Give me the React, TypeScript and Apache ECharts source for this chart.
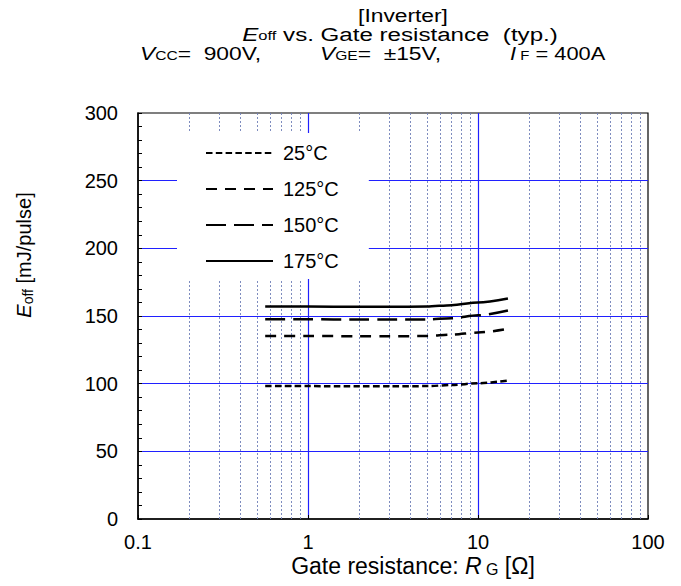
import React, { useEffect, useRef } from "react";
import * as echarts from "echarts";

// Gate resistance sample points [Ω]
const rgOhm = [0.56, 1, 2, 3, 5, 7, 10, 15];

// Turn-off energy [mJ/pulse] per junction temperature
const eoff25 = [98.2, 98.2, 98.0, 98.0, 98.2, 99.0, 100.3, 102.3];
const eoff125 = [135.3, 135.3, 135.0, 135.0, 135.2, 136.2, 137.8, 140.5];
const eoff150 = [147.6, 147.6, 147.4, 147.4, 147.5, 148.3, 150.5, 154.0];
const eoff175 = [157.0, 157.0, 156.8, 156.8, 157.0, 158.0, 160.0, 163.0];

const seriesNames = ["25°C", "125°C", "150°C", "175°C"];

// Intermediate decade lines of the log axis
const minorRg = [
  0.2, 0.3, 0.4, 0.5, 0.6, 0.7, 0.8, 0.9,
  2, 3, 4, 5, 6, 7, 8, 9,
  20, 30, 40, 50, 60, 70, 80, 90,
];

const FONT = "'Liberation Sans', Arial, sans-serif";

const richOf = (size: number, sub: number, lh: number) => ({
  n: { fontFamily: FONT, fontSize: size, color: "#000", lineHeight: lh },
  e: { fontFamily: FONT, fontSize: size, color: "#000", fontStyle: "italic", lineHeight: lh },
  s: { fontFamily: FONT, fontSize: sub, color: "#000", lineHeight: lh, verticalAlign: "bottom" },
});

export default function App() {
  const ref = useRef<HTMLDivElement>(null);

  useEffect(() => {
    if (!ref.current) return;
    const chart = echarts.init(ref.current, null, { renderer: "svg" });

    const pairs = (ys: number[]) => rgOhm.map((x, i) => [x, ys[i]]);
    const curve = (name: string, ys: number[], dash: any) => ({
      name,
      type: "line",
      data: pairs(ys),
      smooth: 0.3,
      smoothMonotone: "x",
      symbol: "none",
      lineStyle: { color: "#000", width: 2.5, type: dash },
      itemStyle: { color: "#000" },
      z: 5,
    });

    const text = (
      x: number,
      y: number,
      t: string,
      size: number,
      lh: number,
      align = "center",
      scaleX = 1,
      rotation = 0
    ) => ({
      type: "text",
      x,
      y,
      scaleX,
      rotation,
      style: {
        text: t,
        rich: richOf(size, Math.round(size * 0.7), lh),
        font: `${size}px ${FONT}`,
        fill: "#000",
        align,
        verticalAlign: "middle",
      },
    });

    chart.setOption({
      animation: false,
      backgroundColor: "#fff",
      textStyle: { fontFamily: FONT },
      grid: {
        left: 138,
        top: 113,
        width: 510,
        height: 406,
        show: true,
        borderColor: "#000",
        borderWidth: 1.2,
        backgroundColor: "transparent",
      },
      legend: {
        data: seriesNames,
        orient: "vertical",
        left: 177,
        top: 133,
        padding: [10, 30, 8, 28],
        itemWidth: 67,
        itemHeight: 20,
        itemGap: 16,
        backgroundColor: "#fff",
        selectedMode: false,
        itemStyle: { opacity: 0, borderWidth: 0 },
        textStyle: {
          fontFamily: FONT,
          fontSize: 20,
          lineHeight: 20,
          color: "#000",
          padding: [0, 0, 0, 5],
        },
        z: 10,
      },
      xAxis: {
        type: "log",
        logBase: 10,
        min: 0.1,
        max: 100,
        axisLine: { show: true, lineStyle: { color: "#000", width: 1.5 } },
        axisTick: { show: true, inside: true, length: 4, lineStyle: { color: "#000" } },
        axisLabel: {
          fontFamily: FONT,
          fontSize: 20,
          color: "#000",
          margin: 13,
          formatter: (v: number) => String(v),
        },
        splitLine: {
          show: true,
          showMinLine: false,
          showMaxLine: false,
          lineStyle: { color: "#2020ff", width: 1.2 },
        },
      },
      yAxis: {
        type: "value",
        min: 0,
        max: 300,
        interval: 50,
        axisLine: { show: true, lineStyle: { color: "#000", width: 1.5 } },
        axisTick: { show: true, inside: true, length: 4, lineStyle: { color: "#000" } },
        minorTick: { show: true, splitNumber: 5, length: 4, lineStyle: { color: "#000" } },
        axisLabel: { fontFamily: FONT, fontSize: 20, color: "#000", margin: 20 },
        splitLine: {
          show: true,
          showMinLine: false,
          showMaxLine: false,
          lineStyle: { color: "#2020ff", width: 1 },
        },
      },
      series: [
        {
          name: "minor-grid",
          type: "line",
          data: [],
          silent: true,
          z: 1,
          markLine: {
            silent: true,
            symbol: "none",
            label: { show: false },
            lineStyle: { color: "#7080b8", width: 1, type: [2, 2], opacity: 0.9 },
            data: minorRg.map((v) => ({ xAxis: v })),
          },
        },
        curve(seriesNames[0], eoff25, [6.5, 3.3]),
        curve(seriesNames[1], eoff125, [11, 8]),
        curve(seriesNames[2], eoff150, [20, 8]),
        curve(seriesNames[3], eoff175, "solid"),
      ],
      graphic: [
        text(403, 15, "[Inverter]", 19, 17, "center", 1.2),
        text(400, 34, "{e|E}{s|off}{n| vs. Gate resistance  (typ.)}", 19, 17, "center", 1.27),
        text(140, 53, "{e|V}{s|CC}{n|=  900V,}", 19, 17, "left", 1.2),
        text(320, 53, "{e|V}{s|GE}{n|=  ±15V,}", 19, 17, "left", 1.2),
        text(510, 53, "{e|I}{s| F}{n| = 400A}", 19, 17, "left", 1.15),
        text(24, 255, "{e|E}{s|off}{n| [mJ/pulse]}", 20, 22, "center", 1, Math.PI / 2),
        text(413, 566, "{n|Gate resistance: }{e|R}{s| G}{n| [Ω]}", 23, 22),
      ],
    });

    return () => chart.dispose();
  }, []);

  return (
    <div
      ref={ref}
      style={{ position: "fixed", left: 0, top: 0, width: 681, height: 586 }}
    />
  );
}
